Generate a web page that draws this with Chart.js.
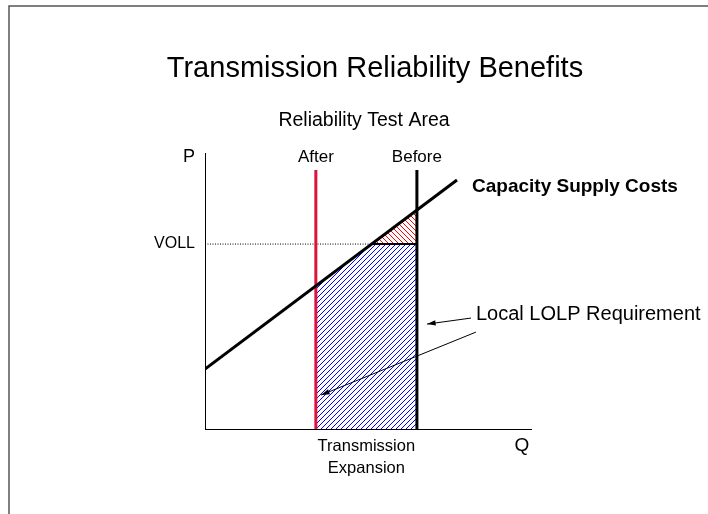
<!DOCTYPE html>
<html>
<head>
<meta charset="utf-8">
<title>Transmission Reliability Benefits</title>
<script src="https://cdn.jsdelivr.net/npm/chart.js@4/dist/chart.umd.min.js"></script>
<style>
  html, body { margin: 0; padding: 0; background: #fff; }
  #wrap { position: relative; width: 708px; height: 514px; }
</style>
</head>
<body>
<div id="wrap"><canvas id="chart"></canvas></div>
<script>
// Diagram values (axis units 0..100 on both Q and P)
const supplyQ = [0, 77.3];
const supplyP = [21.7, 90.2];
const afterQ = 34;
const beforeQ = 65;
const capTopP = 93.8;
const vollP = 67;
const vollCrossQ = 51.1;       // where supply curve meets VOLL
const supplyAtBeforeP = 79.3;  // supply curve at the "Before" line
const supplyAtAfterP = 51.8;   // supply curve at the "After" line

// Annotation arrows: [tailQ, tailP, headQ, headP]
const arrowLines = [
  [81.6, 40.2, 68.1, 38.0],
  [83.1, 35.1, 35.6, 12.3]
];

const FONT = '"Liberation Sans", Arial, sans-serif';
const RED = '#dc143c';

/**
 * Build a diagonal hatch pattern
 * @param {string} color Line colour
 * @param {boolean} rising true for "/" lines, false for "\"
 * @returns {CanvasPattern}
 */
function makeHatch(color, rising) {
  const s = 5;
  const c = document.createElement('canvas');
  c.width = s;
  c.height = s;
  const g = c.getContext('2d');
  g.strokeStyle = color;
  g.lineWidth = 1;
  g.beginPath();
  if (rising) {
    g.moveTo(0, s); g.lineTo(s, 0);
    g.moveTo(-1, 1); g.lineTo(1, -1);
    g.moveTo(s - 1, s + 1); g.lineTo(s + 1, s - 1);
  } else {
    g.moveTo(0, 0); g.lineTo(s, s);
    g.moveTo(-1, s - 1); g.lineTo(1, s + 1);
    g.moveTo(s - 1, -1); g.lineTo(s + 1, 1);
  }
  g.stroke();
  return g.createPattern(c, 'repeat');
}

function pts(xs, ys) {
  return xs.map((x, i) => ({ x, y: ys[i] }));
}

// Text, arrows and slide frame
const decorations = {
  id: 'decorations',
  beforeDraw(chart) {
    const ctx = chart.ctx;
    ctx.save();
    ctx.strokeStyle = '#555';
    ctx.lineWidth = 1.5;
    ctx.beginPath();
    ctx.moveTo(9, 514);
    ctx.lineTo(9, 6);
    ctx.lineTo(708, 6);
    ctx.stroke();
    ctx.restore();
  },
  afterDraw(chart) {
    const ctx = chart.ctx;
    const xs = chart.scales.x;
    const ys = chart.scales.y;
    ctx.save();
    ctx.fillStyle = '#000';
    ctx.textBaseline = 'alphabetic';

    ctx.textAlign = 'center';
    ctx.font = `29px ${FONT}`;
    ctx.fillText('Transmission Reliability Benefits', 375, 77);
    ctx.font = `19.5px ${FONT}`;
    ctx.fillText('Reliability Test Area', 364, 126);

    ctx.font = `17px ${FONT}`;
    ctx.fillText('After', xs.getPixelForValue(afterQ), 162);
    ctx.fillText('Before', xs.getPixelForValue(beforeQ), 162);
    ctx.font = `18px ${FONT}`;
    ctx.fillText('P', 189, 162);
    ctx.font = `19px ${FONT}`;
    ctx.fillText('Q', 522, 451);

    ctx.font = `16.5px ${FONT}`;
    const midQ = xs.getPixelForValue((afterQ + beforeQ) / 2);
    ctx.fillText('Transmission', midQ, 451);
    ctx.fillText('Expansion', midQ, 473);

    ctx.textAlign = 'right';
    ctx.textBaseline = 'middle';
    ctx.font = `16px ${FONT}`;
    ctx.fillText('VOLL', 195, ys.getPixelForValue(vollP));

    ctx.textAlign = 'left';
    ctx.font = `bold 19px ${FONT}`;
    ctx.fillText('Capacity Supply Costs', 472, 187);
    ctx.font = `20px ${FONT}`;
    ctx.fillText('Local LOLP Requirement', 476, 314);

    // arrows
    ctx.strokeStyle = '#000';
    ctx.lineWidth = 1;
    arrowLines.forEach(([q0, p0, q1, p1]) => {
      const x0 = xs.getPixelForValue(q0), y0 = ys.getPixelForValue(p0);
      const x1 = xs.getPixelForValue(q1), y1 = ys.getPixelForValue(p1);
      const a = Math.atan2(y1 - y0, x1 - x0);
      ctx.beginPath();
      ctx.moveTo(x0, y0);
      ctx.lineTo(x1, y1);
      ctx.stroke();
      ctx.beginPath();
      ctx.moveTo(x1, y1);
      ctx.lineTo(x1 - 9 * Math.cos(a - 0.3), y1 - 9 * Math.sin(a - 0.3));
      ctx.lineTo(x1 - 9 * Math.cos(a + 0.3), y1 - 9 * Math.sin(a + 0.3));
      ctx.closePath();
      ctx.fill();
    });
    ctx.restore();
  }
};

const line = (data, color, width, extra) => Object.assign({
  data,
  borderColor: color,
  borderWidth: width,
  pointRadius: 0,
  fill: false
}, extra || {});

new Chart(document.getElementById('chart'), {
  type: 'line',
  data: {
    datasets: [
      line(pts(supplyQ, supplyP), '#000', 3),
      line(pts([afterQ, afterQ], [0, capTopP]), RED, 3),
      line(pts([beforeQ, beforeQ], [0, capTopP]), '#000', 3),
      line(pts([0, vollCrossQ], [vollP, vollP]), '#000', 1, { borderDash: [1, 1.5] }),
      line(pts([vollCrossQ, beforeQ], [vollP, vollP]), '#000', 2),
      line(pts([vollCrossQ, beforeQ], [vollP, supplyAtBeforeP]), 'transparent', 0, {
        fill: { value: vollP },
        backgroundColor: makeHatch('#ff0000', false)
      }),
      line(pts([afterQ, vollCrossQ, beforeQ], [supplyAtAfterP, vollP, vollP]), 'transparent', 0, {
        fill: 'origin',
        backgroundColor: makeHatch('#0000ff', true)
      })
    ]
  },
  options: {
    responsive: true,
    maintainAspectRatio: false,
    animation: false,
    layout: { padding: { left: 197, right: 177, top: 153, bottom: 77 } },
    plugins: { legend: { display: false }, tooltip: { enabled: false } },
    scales: {
      x: {
        type: 'linear', min: 0, max: 100,
        grid: { display: false },
        ticks: { display: false },
        border: { color: '#000', width: 1 }
      },
      y: {
        type: 'linear', min: 0, max: 100,
        grid: { display: false },
        ticks: { display: false },
        border: { color: '#000', width: 1 }
      }
    }
  },
  plugins: [decorations]
});
</script>
</body>
</html>
